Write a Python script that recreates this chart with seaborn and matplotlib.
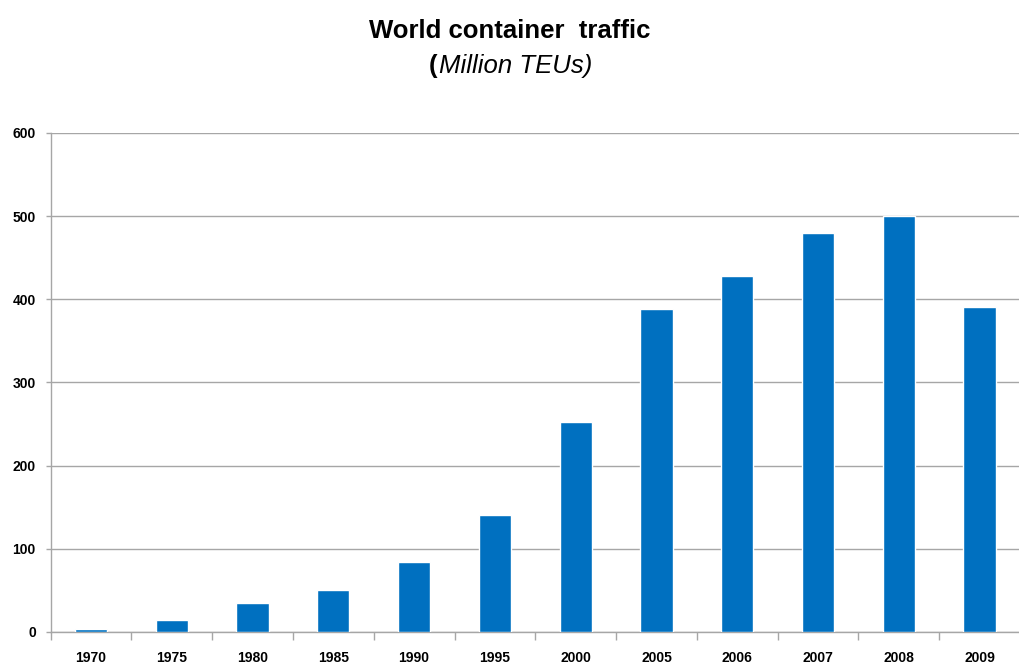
import matplotlib
matplotlib.use("Agg")
import matplotlib.pyplot as plt
import seaborn as sns
import pandas as pd
import numpy as np

years = ["1970", "1975", "1980", "1985", "1990", "1995", "2000", "2005", "2006", "2007", "2008", "2009"]
teus = [4, 15, 35, 51, 84, 141, 252, 388, 428, 480, 500, 391]
yticks = [0, 100, 200, 300, 400, 500, 600]

sns.set_theme(style="white")
plt.rcParams['font.family'] = ['Liberation Sans', 'DejaVu Sans']

df = pd.DataFrame({"year": years, "teu": teus})

fig = plt.figure(figsize=(10.2, 6.67), dpi=100)
ax = fig.add_axes([0.0496, 0.0525, 0.9504, 0.7481])

sns.barplot(data=df, x="year", y="teu", color="#0070C0", saturation=1, width=0.4, ax=ax, zorder=3)

ax.set_ylim(0, 600)
ax.set_xlim(-0.5, 11.4)
ax.set_yticks(yticks)
ax.set_yticklabels([str(v) for v in yticks], fontsize=10, fontweight="bold", color="black")
ax.yaxis.grid(True, color="#a6a6a6", linewidth=1.0, zorder=0)
ax.tick_params(axis="y", length=3.6, width=1, color="#a6a6a6", pad=7, left=True)

n = len(years)
ax.set_xticks(np.arange(n))
ax.set_xticklabels(years, fontsize=10, fontweight="bold", color="black")
ax.tick_params(axis="x", which="major", length=0, pad=14)
ax.set_xticks(np.arange(n + 1) - 0.5, minor=True)
ax.tick_params(axis="x", which="minor", length=6, width=1, color="#a6a6a6", bottom=True)

for s in ["top", "right"]:
    ax.spines[s].set_visible(False)
for s in ["left", "bottom"]:
    ax.spines[s].set_color("#a6a6a6")
    ax.spines[s].set_linewidth(1.0)
ax.set_xlabel("")
ax.set_ylabel("")

fig.text(0.5, 0.953, "World container  traffic", ha="center", va="center",
         fontsize=18.5, fontweight="bold", color="black")

# subtitle: bold "(" followed by italic text, centred together
renderer = fig.canvas.get_renderer()
t1 = fig.text(0, 0.901, "(", ha="left", va="center", fontsize=18.5, fontweight="bold", color="black")
t2 = fig.text(0, 0.901, "Million TEUs)", ha="left", va="center", fontsize=18.5, style="italic", color="black")
w1 = t1.get_window_extent(renderer).width / fig.bbox.width
w2 = t2.get_window_extent(renderer).width / fig.bbox.width
x0 = 0.5 - (w1 + w2) / 2
t1.set_x(x0)
t2.set_x(x0 + w1 + 0.001)

fig.savefig("out.png", dpi=100)
